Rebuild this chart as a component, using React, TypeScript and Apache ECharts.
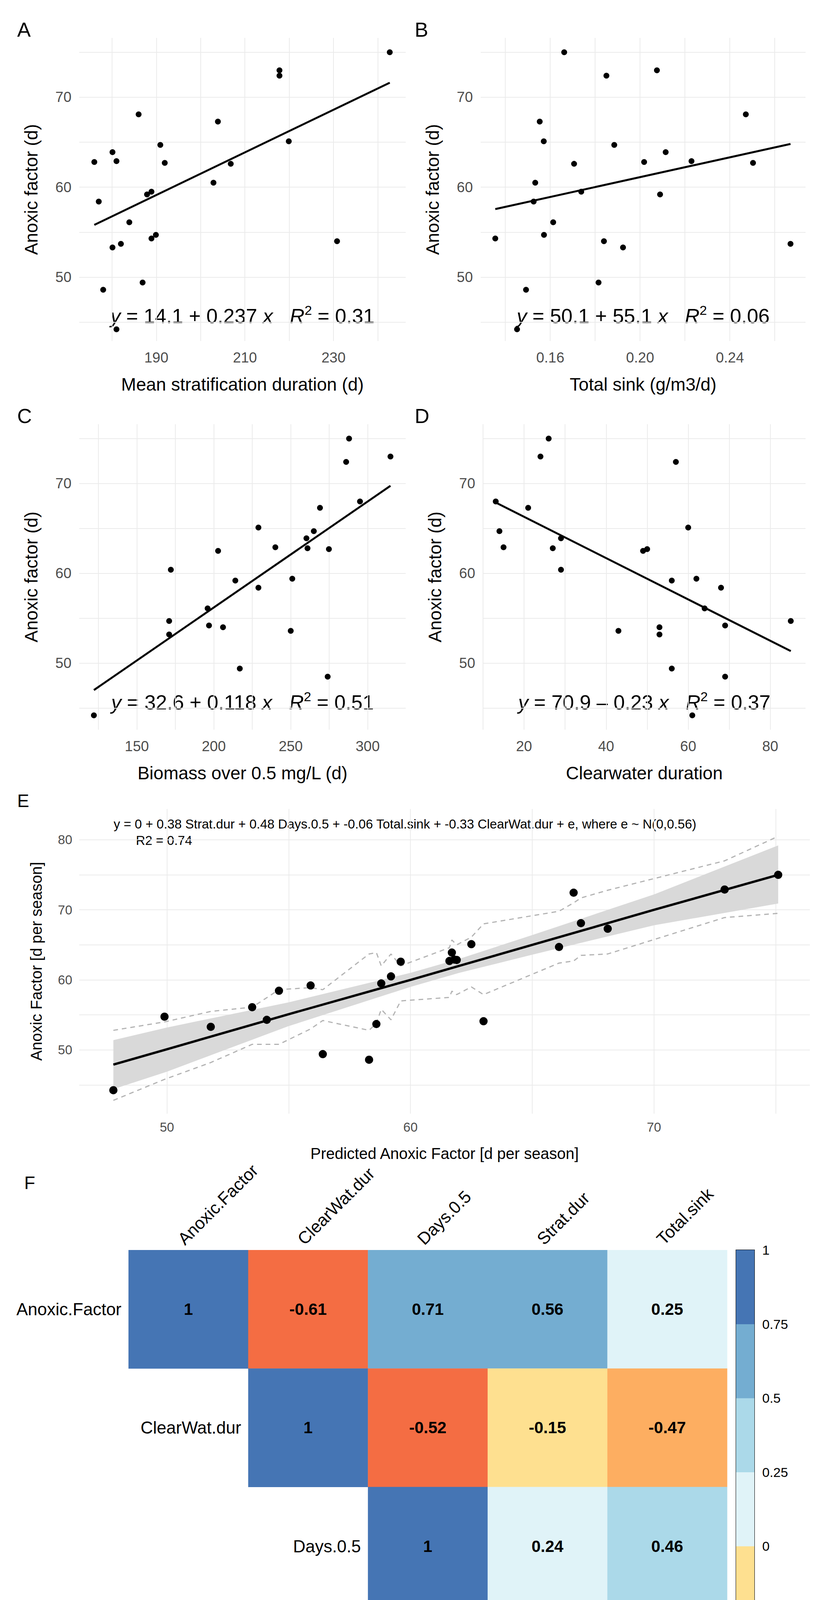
import React, { useEffect, useRef } from "react";
import * as echarts from "echarts";

const FONT = "Liberation Sans, Arial, sans-serif";

// Anoxic factor vs predictors (panels A-D)
const A_x = [176.0,180.1,181.0,177.0,178.0,180.1,182.0,181.0,183.9,186.0,186.9,187.9,188.9,188.9,189.9,190.9,191.9,202.9,203.9,206.8,217.8,217.8,219.9,230.8,242.7];
const A_y = [62.8,63.9,62.9,58.4,48.6,53.3,53.7,44.2,56.1,68.1,49.4,59.2,59.5,54.3,54.7,64.7,62.7,60.5,67.3,62.6,73.0,72.4,65.1,54.0,75.0];
const B_x = [0.1662,0.185,0.2075,0.2471,0.1553,0.1571,0.1885,0.2114,0.2018,0.2229,0.1706,0.2503,0.1533,0.1738,0.2089,0.1526,0.1613,0.1355,0.1572,0.1839,0.1924,0.2670,0.1492,0.1815,0.1452];
const B_y = [75.0,72.4,73.0,68.1,67.3,65.1,64.7,63.9,62.8,62.9,62.6,62.7,60.5,59.5,59.2,58.4,56.1,54.3,54.7,54.0,53.3,53.7,48.6,49.4,44.2];
const C_x = [287.9,314.8,286.0,295.0,269.0,229.0,265.0,260.2,240.0,260.9,274.8,202.8,172.1,251.0,214.0,229.0,196.0,171.0,196.9,206.0,171.0,250.0,216.9,274.0,122.1];
const C_y = [75.0,73.0,72.4,68.0,67.3,65.1,64.7,63.9,62.9,62.8,62.7,62.5,60.4,59.4,59.2,58.4,56.1,54.7,54.2,54.0,53.2,53.6,49.4,48.5,44.2];
const D_x = [26.0,24.0,57.0,13.1,21.0,60.0,14.0,29.0,15.0,27.0,50.0,49.0,29.0,62.0,56.0,68.0,64.0,85.0,69.0,53.0,53.0,43.0,56.0,69.0,61.0];
const D_y = [75.0,73.0,72.4,68.0,67.3,65.1,64.7,63.9,62.9,62.8,62.7,62.5,60.4,59.4,59.2,58.4,56.1,54.7,54.2,54.0,53.2,53.6,49.4,48.5,44.2];

const fitIntercept = [14.1, 50.1, 32.6, 70.9];
const fitSlope = [0.237, 55.1, 0.118, -0.23];
const fitR2 = ["0.31", "0.06", "0.51", "0.37"];
const xNames = ["Mean stratification duration (d)", "Total sink (g/m3/d)", "Biomass over 0.5 mg/L (d)", "Clearwater duration"];
const panelLetters = ["A", "B", "C", "D"];
const xRanges = [[172.6, 246.3], [0.129, 0.2737], [112.6, 324.7], [10, 88.6]];
const xGridTicks = [[180,190,200,210,220,230,240],[0.14,0.16,0.18,0.2,0.22,0.24,0.26],[125,150,175,200,225,250,275,300],[10,20,30,40,50,60,70,80]];
const xTickLabels = [[190,210,230],[0.16,0.2,0.24],[150,200,250,300],[20,40,60,80]];
const yGridTicks = [45,50,55,60,65,70,75];
const yTickLabels = [50,60,70];

// Panel E: observed vs predicted
const E_pred = [47.8,49.9,51.8,53.5,54.1,54.6,55.9,56.4,58.3,58.6,58.8,59.2,59.6,61.6,61.7,61.9,61.8,62.5,63.0,66.1,66.7,67.0,68.1,72.9,75.1];
const E_obs = [44.25,54.75,53.3,56.1,54.3,58.45,59.2,49.4,48.6,53.7,59.5,60.5,62.6,62.7,63.9,62.85,62.9,65.1,54.1,64.7,72.45,68.1,67.3,72.9,75.0];
const E_fitX = [47.8,50,55,60,62,65,70,75.1];
const E_fitY = [47.9,50.1,55.1,60.0,62.0,65.0,70.0,75.0];
const E_bandLo = [44.4,46.9,53.4,59.0,61.0,63.6,67.8,70.9];
const E_bandHi = [51.4,53.2,56.8,61.0,63.0,66.4,72.2,79.2];
const E_upX = [47.8,49.9,51.8,53.5,54.6,55.9,56.4,58.3,58.6,58.8,59.2,59.6,61.6,61.7,61.9,62.5,63.0,66.1,66.7,67.0,68.1,72.9,75.1];
const E_upY = [52.8,54.0,55.5,56.1,58.6,58.9,58.6,63.7,63.9,62.0,63.7,62.0,64.6,65.7,65.0,66.1,68.0,69.8,71.0,71.7,72.8,77.0,80.5];
const E_loY = [42.8,45.8,48.2,50.8,50.8,53.0,54.2,52.8,53.8,55.8,54.3,57.0,57.5,58.4,57.9,59.0,57.9,62.4,62.7,63.5,63.7,68.9,69.5];
const E_eq = "y = 0 + 0.38 Strat.dur + 0.48 Days.0.5 + -0.06 Total.sink + -0.33 ClearWat.dur + e, where e ~ N(0,0.56)";
const E_r2 = "R2 = 0.74";

// Panel F: correlation matrix
const vars = ["Anoxic.Factor", "ClearWat.dur", "Days.0.5", "Strat.dur", "Total.sink"];
const corr = [
  [1, -0.61, 0.71, 0.56, 0.25],
  [null, 1, -0.52, -0.15, -0.47],
  [null, null, 1, 0.24, 0.46],
  [null, null, null, 1, -0.17],
  [null, null, null, null, 1],
];
const binLo = [-1, -0.75, -0.5, -0.25, 0, 0.25, 0.5, 0.75];
const binColors = ["#D73027", "#F46D43", "#FDAE61", "#FEE090", "#E0F3F8", "#ABD9E9", "#74ADD1", "#4575B4"];

function colorFor(v: number) {
  for (let i = binLo.length - 1; i >= 0; i--) if (v > binLo[i]) return binColors[i];
  return binColors[0];
}

const GRID_C = "#EBEBEB";
const TICK_C = "#4D4D4D";

export default function App() {
  const ref = useRef<HTMLDivElement>(null);
  useEffect(() => {
    document.body.style.margin = "0";
    const chart = echarts.init(ref.current!, null, { renderer: "svg" });
    const xData = [A_x, B_x, C_x, D_x];
    const yData = [A_y, B_y, C_y, D_y];
    const grids: any[] = [
      { left: 203, top: 97, width: 836, height: 776 },
      { left: 1231, top: 97, width: 832, height: 776 },
      { left: 203, top: 1086, width: 836, height: 782 },
      { left: 1237, top: 1086, width: 826, height: 782 },
      { left: 203, top: 2071, width: 1871, height: 780 },
      { left: 329, top: 3200, width: 1533, height: 1516 },
      { left: 1885, top: 3200, width: 47, height: 1516, show: true, borderColor: "#000", borderWidth: 2, backgroundColor: "transparent" },
    ];
    const xAxes: any[] = [];
    const yAxes: any[] = [];
    const series: any[] = [];
    const graphics: any[] = [];
    const yRanges = [[42.9, 76.6], [42.9, 76.6], [42.6, 76.6], [42.6, 76.6]];
    for (let i = 0; i < 4; i++) {
      xAxes.push({
        type: "value", gridIndex: i, min: xRanges[i][0], max: xRanges[i][1],
        name: xNames[i], nameLocation: "middle", nameGap: 88,
        nameTextStyle: { fontSize: 46, color: "#000", fontFamily: FONT },
        axisLine: { show: false },
        axisTick: { show: false, customValues: xGridTicks[i] },
        axisLabel: { customValues: xTickLabels[i], fontSize: 37, color: TICK_C, fontFamily: FONT, margin: 24,
          formatter: (v: number) => (i === 1 ? v.toFixed(2) : String(v)) },
        splitLine: { show: true, lineStyle: { color: GRID_C, width: 2 } },
      });
      yAxes.push({
        type: "value", gridIndex: i, min: yRanges[i][0], max: yRanges[i][1],
        name: "Anoxic factor (d)", nameLocation: "middle", nameGap: 100,
        nameTextStyle: { fontSize: 46, color: "#000", fontFamily: FONT },
        axisLine: { show: false },
        axisTick: { show: false, customValues: yGridTicks },
        axisLabel: { customValues: yTickLabels, fontSize: 37, color: TICK_C, fontFamily: FONT, margin: 20 },
        splitLine: { show: true, lineStyle: { color: GRID_C, width: 2 } },
      });
      series.push({
        type: "scatter", xAxisIndex: i, yAxisIndex: i, symbolSize: 15,
        itemStyle: { color: "#000", opacity: 1 }, z: 3,
        data: xData[i].map((x, k) => [x, yData[i][k]]),
      });
      const xmin = Math.min(...xData[i]);
      const xmax = Math.max(...xData[i]);
      series.push({
        type: "line", xAxisIndex: i, yAxisIndex: i, symbol: "none", z: 4,
        lineStyle: { color: "#000", width: 5 },
        data: [[xmin, fitIntercept[i] + fitSlope[i] * xmin], [xmax, fitIntercept[i] + fitSlope[i] * xmax]],
      });
      const g = grids[i];
      const sign = fitSlope[i] < 0 ? "\u2013" : "+";
      graphics.push({
        type: "text", x: g.left + g.width / 2, y: i < 2 ? 809 : 1798,
        style: {
          text: `{i|y} = ${fitIntercept[i]} ${sign} ${Math.abs(fitSlope[i])} {i|x}   {i|R}{s|2} = ${fitR2[i]}`,
          align: "center", verticalAlign: "middle", fontSize: 52, fontFamily: FONT, fill: "#000",
          rich: { i: { fontStyle: "italic", fontSize: 52, fontFamily: FONT }, s: { fontSize: 34, fontFamily: FONT, padding: [0, 0, 30, 0] } },
        },
      });
      graphics.push({
        type: "text", x: i % 2 === 0 ? 44 : 1062, y: i < 2 ? 76 : 1065,
        style: { text: panelLetters[i], fontSize: 52, fontFamily: FONT, fill: "#000", verticalAlign: "middle" },
      });
    }
    // Panel E
    xAxes.push({
      type: "value", gridIndex: 4, min: 46.4, max: 76.4,
      name: "Predicted Anoxic Factor [d per season]", nameLocation: "middle", nameGap: 82,
      nameTextStyle: { fontSize: 40, color: "#000", fontFamily: FONT },
      axisLine: { show: false }, axisTick: { show: false, customValues: [50, 55, 60, 65, 70, 75] },
      axisLabel: { customValues: [50, 60, 70], fontSize: 33, color: TICK_C, fontFamily: FONT, margin: 18 },
      splitLine: { show: true, lineStyle: { color: GRID_C, width: 2 } },
    });
    yAxes.push({
      type: "value", gridIndex: 4, min: 40.9, max: 84.4,
      name: "Anoxic Factor [d per season]", nameLocation: "middle", nameGap: 90,
      nameTextStyle: { fontSize: 40, color: "#000", fontFamily: FONT },
      axisLine: { show: false }, axisTick: { show: false, customValues: [45, 50, 55, 60, 65, 70, 75, 80] },
      axisLabel: { customValues: [50, 60, 70, 80], fontSize: 33, color: TICK_C, fontFamily: FONT, margin: 18 },
      splitLine: { show: true, lineStyle: { color: GRID_C, width: 2 } },
    });
    // confidence band as one polygon
    series.push({
      type: "custom", xAxisIndex: 4, yAxisIndex: 4, z: 1, data: [[E_fitX[0], E_bandLo[0]]],
      renderItem: (params: any, api: any) => {
        const pts: number[][] = [];
        E_fitX.forEach((x, k) => pts.push(api.coord([x, E_bandHi[k]])));
        for (let k = E_fitX.length - 1; k >= 0; k--) pts.push(api.coord([E_fitX[k], E_bandLo[k]]));
        return { type: "polygon", shape: { points: pts }, style: { fill: "#D9D9D9" } };
      },
    });
    for (const arr of [E_upY, E_loY]) {
      series.push({
        type: "line", xAxisIndex: 4, yAxisIndex: 4, symbol: "none", z: 2,
        lineStyle: { color: "#B3B3B3", width: 3, type: [12, 10] },
        data: E_upX.map((x, k) => [x, arr[k]]),
      });
    }
    series.push({
      type: "line", xAxisIndex: 4, yAxisIndex: 4, symbol: "none", z: 3,
      lineStyle: { color: "#000", width: 6 }, data: E_fitX.map((x, k) => [x, E_fitY[k]]),
    });
    series.push({
      type: "scatter", xAxisIndex: 4, yAxisIndex: 4, symbolSize: 21, z: 4,
      itemStyle: { color: "#000", opacity: 1 }, data: E_pred.map((x, k) => [x, E_obs[k]]),
    });
    graphics.push({ type: "text", x: 44, y: 2050, style: { text: "E", fontSize: 46, fontFamily: FONT, fill: "#000", verticalAlign: "middle" } });
    graphics.push({ type: "text", x: 291, y: 2109, style: { text: E_eq, fontSize: 33, fontFamily: FONT, fill: "#000", verticalAlign: "middle" } });
    graphics.push({ type: "text", x: 348, y: 2151, style: { text: E_r2, fontSize: 33, fontFamily: FONT, fill: "#000", verticalAlign: "middle" } });

    // Panel F heatmap
    xAxes.push({ type: "category", gridIndex: 5, data: vars, show: false });
    yAxes.push({ type: "category", gridIndex: 5, data: vars, inverse: true, show: false });
    const cells: any[] = [];
    corr.forEach((row, r) => row.forEach((v, c) => { if (v !== null) cells.push([c, r, v]); }));
    series.push({
      type: "custom", xAxisIndex: 5, yAxisIndex: 5, data: cells,
      renderItem: (params: any, api: any) => {
        const c = api.value(0), r = api.value(1), v = api.value(2);
        const p = api.coord([c, r]);
        const s = api.size([1, 1]);
        const children: any[] = [
          { type: "rect", shape: { x: p[0] - s[0] / 2, y: p[1] - s[1] / 2, width: s[0] + 0.5, height: s[1] + 0.5 }, style: { fill: colorFor(v) } },
          { type: "text", x: p[0], y: p[1], style: { text: String(v), fontSize: 42, fontWeight: "bold", fontFamily: FONT, fill: "#000", align: "center", verticalAlign: "middle" } },
        ];
        if (c === r) {
          children.push({ type: "text", x: p[0] - s[0] / 2 - 18, y: p[1], style: { text: vars[r], fontSize: 44, fontFamily: FONT, fill: "#000", align: "right", verticalAlign: "middle" } });
        }
        if (r === 0) {
          children.push({ type: "text", x: p[0] - 4, y: p[1] - s[1] / 2 - 6, rotation: Math.PI / 4, style: { text: vars[c], fontSize: 44, fontFamily: FONT, fill: "#000", align: "left", verticalAlign: "bottom" } });
        }
        return { type: "group", children };
      },
    });
    // colour bar
    xAxes.push({ type: "value", gridIndex: 6, min: 0, max: 1, show: false });
    yAxes.push({
      type: "value", gridIndex: 6, min: -1, max: 1, interval: 0.25, position: "right",
      axisLine: { show: false }, splitLine: { show: false },
      axisTick: { show: true, length: 8, lineStyle: { color: "#000", width: 2 } },
      axisLabel: { fontSize: 34, fontFamily: FONT, color: "#000", margin: 20 },
    });
    series.push({
      type: "custom", xAxisIndex: 6, yAxisIndex: 6, data: binLo.map((lo, k) => [lo, k]),
      renderItem: (params: any, api: any) => {
        const lo = api.value(0);
        const p1 = api.coord([0, lo + 0.25]);
        const p2 = api.coord([1, lo]);
        return { type: "rect", shape: { x: p1[0], y: p1[1], width: p2[0] - p1[0], height: p2[1] - p1[1] + 0.5 }, style: { fill: binColors[api.value(1)] } };
      },
    });
    graphics.push({ type: "text", x: 62, y: 3028, style: { text: "F", fontSize: 46, fontFamily: FONT, fill: "#000", verticalAlign: "middle" } });

    chart.setOption({
      animation: false,
      backgroundColor: "#fff",
      textStyle: { fontFamily: FONT },
      grid: grids,
      xAxis: xAxes,
      yAxis: yAxes,
      series,
      graphic: graphics,
    });
    return () => chart.dispose();
  }, []);
  return <div ref={ref} style={{ width: 2100, height: 4769 }} />;
}
